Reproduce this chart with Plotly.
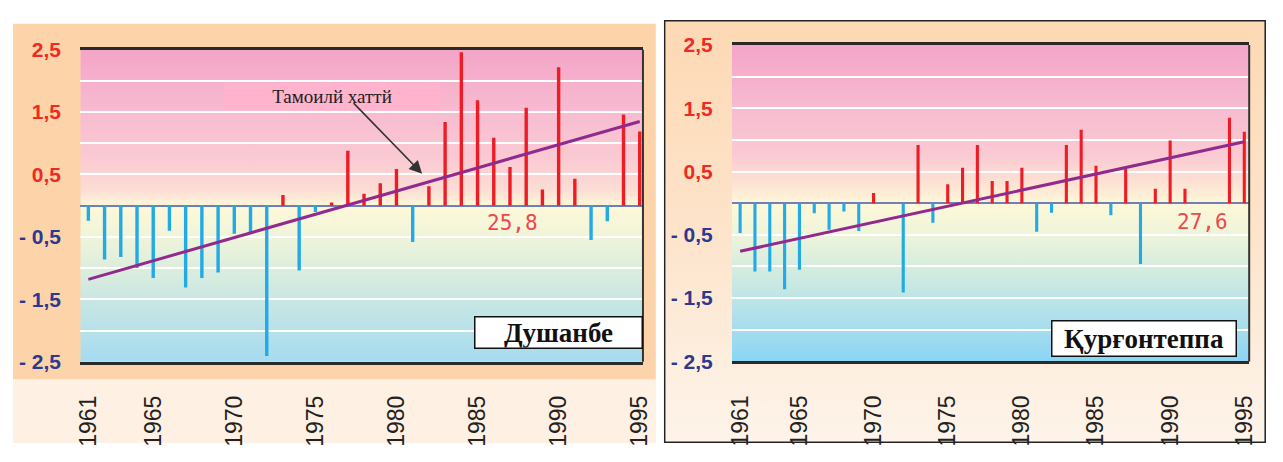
import base64
import plotly.graph_objects as go

# ---------------- data ----------------
years = list(range(1961, 1996))
dushanbe = [-0.24, -0.86, -0.82, -1.00, -1.16, -0.40, -1.31, -1.16, -1.07, -0.45,
            -0.45, -2.41, 0.17, -1.04, -0.10, 0.05, 0.88, 0.19, 0.36, 0.59,
            -0.58, 0.31, 1.34, 2.46, 1.69, 1.09, 0.62, 1.57, 0.26, 2.22,
            0.43, -0.55, -0.25, 1.46, 1.19]
kurgonteppa = [-0.47, -1.08, -1.08, -1.36, -1.05, -0.16, -0.42, -0.13, -0.44, 0.16,
               0.0, -1.41, 0.92, -0.31, 0.30, 0.56, 0.92, 0.35, 0.35, 0.56,
               -0.45, -0.15, 0.92, 1.16, 0.59, -0.19, 0.54, -0.96, 0.23, 0.99,
               0.23, 0.0, 0.0, 1.35, 1.13]
trend_years = [1961, 1995]
trend_dushanbe = [-1.18, 1.35]
trend_kurgonteppa = [-0.76, 0.97]

ytick_pos_vals = [0.5, 1.5, 2.5]
ytick_pos_text = ["0,5", "1,5", "2,5"]
ytick_neg_vals = [-2.5, -1.5, -0.5]
ytick_neg_text = ["- 2,5", "- 1,5", "- 0,5"]
xtick_vals = [1961, 1965, 1970, 1975, 1980, 1985, 1990, 1995]
xtick_text = ["1961", "1965", "1970", "1975", "1980", "1985", "1990", "1995"]
stations = ["Душанбе", "Қурғонтеппа"]
base_labels = ["25,8", "27,6"]
trend_label = "Тамоилй хаттй"

# ---------------- style ----------------
PAGE_W, PAGE_H = 1283, 462
BODY = 8                      # default page body margin
W, H = PAGE_W - 2 * BODY, PAGE_H - 2 * BODY
RED = "#EE1C25"
BLUE = "#22AAE6"
TICK_RED = "#EE2A24"
TICK_NAVY = "#2B3990"
PURPLE = "#922A8E"


def px(x):
    return (x - BODY) / W


def py(y):
    return 1 - (y - BODY) / H


def grad_uri(stops):
    st = "".join(f'<stop offset="{o}" stop-color="{c}"/>' for o, c in stops)
    svg = ('<svg xmlns="http://www.w3.org/2000/svg" width="10" height="100" '
           'viewBox="0 0 10 100" preserveAspectRatio="none"><defs>'
           f'<linearGradient id="g" x1="0" y1="0" x2="0" y2="1">{st}</linearGradient>'
           '</defs><rect x="0" y="0" width="10" height="100" fill="url(#g)"/></svg>')
    return "data:image/svg+xml;base64," + base64.b64encode(svg.encode()).decode()


plot_grad_left = grad_uri([(0, "#F4A5C8"), (0.2, "#F7BBD0"), (0.35, "#FACAD3"),
                           (0.45, "#FCDDD5"), (0.5, "#FEF8D8"), (0.6, "#F0F4DA"),
                           (0.7, "#DCEEDD"), (0.8, "#C9E7E3"), (0.9, "#B7E1EA"),
                           (1, "#A5DBEF")])
plot_grad_right = grad_uri([(0, "#F4A5C8"), (0.2, "#F7BBD0"), (0.35, "#FACAD3"),
                            (0.45, "#FDE6D4"), (0.5, "#FEF8D8"), (0.6, "#EEF4DA"),
                            (0.7, "#D6EDDF"), (0.8, "#BDE5E6"), (0.9, "#A5DDEE"),
                            (1, "#8AD5F4")])
panel_grad_right = grad_uri([(0, "#FDD9B4"), (0.5, "#FDE4CB"), (1, "#FEF4EA")])

fig = go.Figure()

series = [(dushanbe, trend_dushanbe, "x", "y", "y3"),
          (kurgonteppa, trend_kurgonteppa, "x2", "y2", "y4")]
for vals, trend, xa, ya, ya_over in series:
    yv = [v if v != 0 else None for v in vals]
    cols = [RED if v > 0 else BLUE for v in vals]
    fig.add_trace(go.Bar(x=years, y=yv, marker_color=cols, marker_line_width=0,
                         width=0.21, xaxis=xa, yaxis=ya, hoverinfo="x+y"))
    fig.add_trace(go.Scatter(x=trend_years, y=trend, mode="lines",
                             line=dict(color=PURPLE, width=3), xaxis=xa, yaxis=ya_over))

domains = [
    dict(x=[px(76), px(645)], y=[py(368.3), py(39.3)], range=[1960.5, 1995.2]),
    dict(x=[px(735), px(1258)], y=[py(368), py(34.3)], range=[1960.45, 1995.33]),
]

common_x = dict(tickvals=xtick_vals, ticktext=xtick_text, tickangle=-90,
                tickfont=dict(family="Liberation Sans", size=23, color="#222"),
                ticks="outside", ticklen=22, tickcolor="rgba(0,0,0,0)",
                showgrid=False, zeroline=False, showline=True, mirror=True,
                linecolor="#2A2A2A", linewidth=2.5)
common_yneg = dict(range=[-2.5, 2.5], tickvals=ytick_neg_vals, ticktext=ytick_neg_text,
                   tickfont=dict(family="Liberation Sans", size=21, color=TICK_NAVY,
                                 weight="bold"),
                   ticks="outside", ticklen=14, tickcolor="rgba(0,0,0,0)",
                   showgrid=True, gridcolor="white", gridwidth=2,
                   minor=dict(tickvals=[-2, -1, 0.5, 1, 1.5, 2], showgrid=True,
                              gridcolor="white", gridwidth=2, ticks=""),
                   zeroline=True, zerolinecolor="#6E7FB9", zerolinewidth=2, showline=False)
common_ypos = dict(range=[-2.5, 2.5], tickvals=ytick_pos_vals, ticktext=ytick_pos_text,
                   tickfont=dict(family="Liberation Sans", size=21, color=TICK_RED,
                                 weight="bold"),
                   ticks="outside", ticklen=14, tickcolor="rgba(0,0,0,0)",
                   showgrid=False, zeroline=False, showline=False)

fig.update_layout(
    width=W, height=H, margin=dict(l=0, r=0, t=0, b=0),
    paper_bgcolor="white", plot_bgcolor="rgba(0,0,0,0)", showlegend=False,
    xaxis=dict(domain=domains[0]["x"], range=domains[0]["range"], anchor="y", **common_x),
    yaxis=dict(domain=domains[0]["y"], anchor="x", **common_yneg),
    yaxis3=dict(overlaying="y", anchor="x", side="left", **common_ypos),
    xaxis2=dict(domain=domains[1]["x"], range=domains[1]["range"], anchor="y2", **common_x),
    yaxis2=dict(domain=domains[1]["y"], anchor="x2", **common_yneg),
    yaxis4=dict(overlaying="y2", anchor="x2", side="left", **common_ypos),
)

# backgrounds
fig.add_shape(type="rect", xref="paper", yref="paper", x0=px(8), x1=px(658),
              y0=py(387), y1=py(12), fillcolor="#FDD4A9", line_width=0, layer="below")
fig.add_shape(type="rect", xref="paper", yref="paper", x0=px(8), x1=px(658),
              y0=py(454), y1=py(387), fillcolor="#FEF0E2", line_width=0, layer="below")
fig.add_layout_image(source=panel_grad_right, xref="paper", yref="paper",
                     x=px(668), y=py(9), sizex=px(1274) - px(668), sizey=py(9) - py(453),
                     xanchor="left", yanchor="top", sizing="stretch", layer="below")
fig.add_shape(type="rect", xref="paper", yref="paper", x0=px(667), x1=px(1274.2),
              y0=py(453.2), y1=py(8.8), line=dict(color="#222", width=1.5), layer="below")

fig.add_layout_image(source=plot_grad_left, xref="x", yref="y", x=1960.5, y=2.5,
                     sizex=1995.2 - 1960.5, sizey=5, xanchor="left", yanchor="top",
                     sizing="stretch", layer="below")
fig.add_layout_image(source=plot_grad_right, xref="x2", yref="y2", x=1960.45, y=2.5,
                     sizex=1995.33 - 1960.45, sizey=5, xanchor="left", yanchor="top",
                     sizing="stretch", layer="below")

# right plot border
for xr, yr in [("x domain", "y domain"), ("x2 domain", "y2 domain")]:
    fig.add_shape(type="line", xref=xr, yref=yr, x0=1, x1=1, y0=0, y1=1,
                  line=dict(color="#333", width=2))

# annotations
ann = dict(xref="paper", yref="paper", xanchor="center", yanchor="middle")
fig.add_annotation(x=px(331), y=py(88), text=trend_label,
                   showarrow=False, bgcolor="#FFB3CC", width=214, height=24,
                   font=dict(family="Liberation Serif", size=19, color="#222"), **ann)
fig.add_annotation(xref="paper", yref="paper", x=px(421.7), y=py(170), text="",
                   showarrow=True, axref="pixel", ayref="pixel", ax=-70, ay=-72,
                   arrowhead=2, arrowsize=1.6, arrowwidth=1.6, arrowcolor="#333")
for (xc, yc), t in zip([(513, 222), (1211, 221)], base_labels):
    fig.add_annotation(x=px(xc), y=py(yc), text=t, showarrow=False,
                       font=dict(family="DejaVu Sans Mono", size=21, color="#F0464C"), **ann)
for (xc, yc, w, h), t in zip([(560, 337, 166, 30), (1152, 344, 183, 34)], stations):
    fig.add_annotation(x=px(xc), y=py(yc), text=f"<b>{t}</b>",
                       showarrow=False, bgcolor="white", bordercolor="#111",
                       borderwidth=1.5, borderpad=0, width=w, height=h,
                       font=dict(family="Liberation Serif", size=27, color="#111"), **ann)

fig.write_html("out.html", config={"displayModeBar": False})
